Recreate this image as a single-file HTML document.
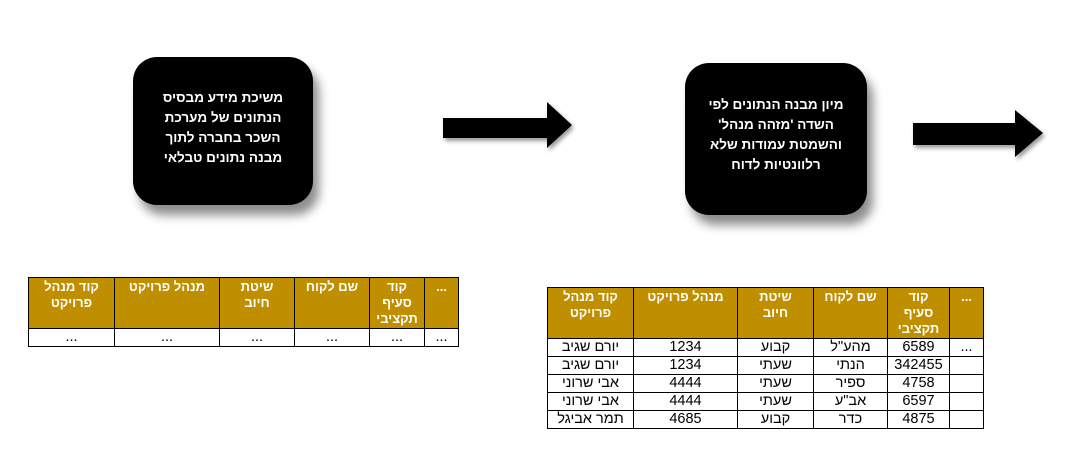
<!DOCTYPE html>
<html><head><meta charset="utf-8"><style>
body{margin:0;width:1072px;height:476px;background:#fff;position:relative;overflow:hidden;font-family:"Liberation Sans","Noto Sans CJK SC",sans-serif}
.box{position:absolute;background:#000;border-radius:24px;box-shadow:6px 10px 10px rgba(0,0,0,.45);color:#fff;font-weight:bold;font-size:13.5px;line-height:20px;text-align:center;direction:rtl;box-sizing:border-box;white-space:nowrap}
table{position:absolute;border-collapse:collapse;direction:rtl;font-size:14.5px;table-layout:fixed}
td,th{border:1px solid #000;padding:0 3px;text-align:center;vertical-align:top;line-height:17px;height:17px;overflow:hidden;white-space:nowrap}
th{background:#bf8f00;color:#fff;font-weight:bold;font-size:13px;line-height:16px;padding-top:1px}
svg{position:absolute;left:0;top:0}
</style></head><body>
<div class="box" style="left:133px;top:57px;width:180px;height:148px;padding:31px 4px 0">משיכת מידע מבסיס<br>הנתונים של מערכת<br>השכר בחברה לתוך<br>מבנה נתונים טבלאי</div>
<div class="box" style="left:685px;top:63px;width:182px;height:152px;padding:32px 4px 0">מיון מבנה הנתונים לפי<br>השדה 'מזהה מנהל'<br>והשמטת עמודות שלא<br>רלוונטיות לדוח</div>
<svg width="1072" height="476">
<defs><filter id="s"><feDropShadow dx="2" dy="3" stdDeviation="2" flood-opacity=".4"/></filter></defs>
<polygon filter="url(#s)" points="443,118 547,118 547,102 572,125 547,148 547,138 443,138"/>
<polygon filter="url(#s)" points="913,123 1015,123 1015,110 1043,133 1015,157 1015,145 913,145"/>
</svg>
<table style="left:28px;top:277px;width:430px">
<colgroup><col style="width:34px"><col style="width:55px"><col style="width:75px"><col style="width:75px"><col style="width:105px"><col style="width:86px"></colgroup>
<tr style="height:51px"><th>...</th><th>קוד<br>סעיף<br>תקציבי</th><th>שם לקוח</th><th>שיטת<br>חיוב</th><th>מנהל פרויקט</th><th>קוד מנהל<br>פרויקט</th></tr>
<tr><td>...</td><td>...</td><td>...</td><td>...</td><td>...</td><td>...</td></tr>
</table>
<table style="left:547px;top:287px;width:437px">
<colgroup><col style="width:34px"><col style="width:62px"><col style="width:74px"><col style="width:76px"><col style="width:104px"><col style="width:86px"></colgroup>
<tr style="height:51px"><th>...</th><th>קוד<br>סעיף<br>תקציבי</th><th>שם לקוח</th><th>שיטת<br>חיוב</th><th>מנהל פרויקט</th><th>קוד מנהל<br>פרויקט</th></tr>
<tr><td>...</td><td>6589</td><td>מהע"ל</td><td>קבוע</td><td>1234</td><td>יורם שגיב</td></tr>
<tr><td></td><td>342455</td><td>הנתי</td><td>שעתי</td><td>1234</td><td>יורם שגיב</td></tr>
<tr><td></td><td>4758</td><td>ספיר</td><td>שעתי</td><td>4444</td><td>אבי שרוני</td></tr>
<tr><td></td><td>6597</td><td>אב"ע</td><td>שעתי</td><td>4444</td><td>אבי שרוני</td></tr>
<tr><td></td><td>4875</td><td>כדר</td><td>קבוע</td><td>4685</td><td>תמר אביגל</td></tr>
</table>
</body></html>
